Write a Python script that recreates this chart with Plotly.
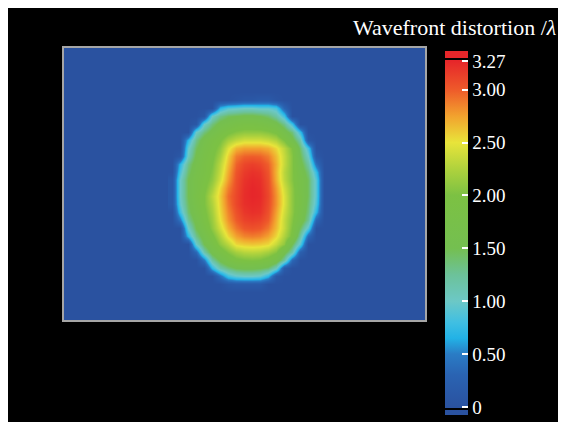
import plotly.graph_objects as go

# grid cell indices (columns / rows of the sampled wavefront map)
col_index = list(range(13, 33))
row_index = list(range(5, 31))

# wavefront distortion values (in wavelengths)
distortion = [
    [0, 0, 0, 0, 0, 0, 0, 0, 0, 0, 0, 0, 0, 0, 0, 0, 0, 0, 0, 0],
    [0, 0, 0, 0, 0, 0, 0, 0, 0.05, 0.1, 0.1, 0.15, 0.15, 0.05, 0, 0, 0, 0, 0, 0],
    [0, 0, 0, 0, 0, 0, 0.7, 0.9, 0.95, 1.0, 1.0, 0.95, 0.95, 0.85, 0.3, 0, 0, 0, 0, 0],
    [0, 0, 0, 0, 0.1, 1.0, 1.3, 1.45, 1.5, 1.55, 1.55, 1.5, 1.4, 1.2, 0.8, 0, 0, 0, 0, 0],
    [0, 0, 0, 0.1, 1.0, 1.35, 1.6, 1.7, 1.8, 1.85, 1.85, 1.82, 1.75, 1.6, 1.3, 0.8, 0, 0, 0, 0],
    [0, 0, 0, 1.0, 1.35, 1.6, 1.8, 1.95, 2.05, 2.1, 2.1, 2.1, 2.05, 1.95, 1.65, 1.35, 0.75, 0, 0, 0],
    [0, 0, 0.7, 1.3, 1.65, 1.85, 1.98, 2.2, 2.32, 2.4, 2.4, 2.4, 2.35, 2.25, 2.0, 1.6, 1.15, 0.1, 0, 0],
    [0, 0, 0.95, 1.45, 1.75, 1.9, 2.1, 2.45, 2.68, 2.75, 2.75, 2.75, 2.7, 2.55, 2.3, 2.0, 1.4, 0.8, 0, 0],
    [0, 0.1, 1.05, 1.55, 1.8, 1.95, 2.2, 2.58, 2.88, 2.97, 2.99, 2.97, 2.88, 2.65, 2.35, 2.05, 1.5, 1.0, 0.1, 0],
    [0, 0.7, 1.3, 1.65, 1.85, 2.0, 2.3, 2.65, 2.97, 3.1, 3.14, 3.1, 2.98, 2.7, 2.35, 2.05, 1.6, 1.2, 0.4, 0],
    [0, 0.85, 1.4, 1.7, 1.85, 2.05, 2.35, 2.72, 3.03, 3.16, 3.21, 3.18, 3.03, 2.68, 2.3, 2.05, 1.7, 1.35, 0.75, 0],
    [0.1, 1.0, 1.5, 1.75, 1.9, 2.1, 2.42, 2.78, 3.06, 3.2, 3.25, 3.22, 3.06, 2.7, 2.32, 2.05, 1.75, 1.45, 0.9, 0],
    [0.1, 1.0, 1.5, 1.75, 1.95, 2.2, 2.55, 2.87, 3.08, 3.22, 3.27, 3.24, 3.08, 2.77, 2.4, 2.1, 1.75, 1.45, 0.9, 0],
    [0.1, 1.0, 1.5, 1.8, 2.0, 2.3, 2.6, 2.93, 3.1, 3.23, 3.27, 3.25, 3.1, 2.8, 2.45, 2.1, 1.8, 1.45, 0.9, 0],
    [0.1, 0.95, 1.45, 1.75, 2.0, 2.25, 2.58, 2.9, 3.1, 3.22, 3.25, 3.23, 3.08, 2.8, 2.45, 2.1, 1.8, 1.4, 0.85, 0],
    [0, 0.8, 1.4, 1.7, 1.95, 2.2, 2.55, 2.85, 3.05, 3.18, 3.22, 3.2, 3.05, 2.75, 2.4, 2.1, 1.75, 1.35, 0.7, 0],
    [0, 0.45, 1.25, 1.6, 1.9, 2.15, 2.5, 2.8, 3.0, 3.12, 3.15, 3.12, 3.0, 2.7, 2.35, 2.05, 1.7, 1.25, 0.3, 0],
    [0, 0, 1.0, 1.5, 1.8, 2.1, 2.4, 2.7, 2.9, 3.02, 3.05, 3.02, 2.9, 2.65, 2.35, 2.0, 1.45, 0.9, 0, 0],
    [0, 0, 0.7, 1.3, 1.65, 1.95, 2.25, 2.55, 2.75, 2.85, 2.88, 2.85, 2.75, 2.55, 2.25, 1.95, 1.2, 0.35, 0, 0],
    [0, 0, 0, 1.0, 1.5, 1.8, 2.1, 2.3, 2.55, 2.6, 2.62, 2.6, 2.55, 2.35, 2.1, 1.5, 0.9, 0, 0, 0],
    [0, 0, 0, 0.35, 1.15, 1.6, 1.85, 2.05, 2.2, 2.28, 2.3, 2.28, 2.2, 2.05, 1.6, 1.15, 0.25, 0, 0, 0],
    [0, 0, 0, 0, 0.45, 1.2, 1.55, 1.8, 1.95, 2.0, 2.02, 2.0, 1.9, 1.7, 1.2, 0.35, 0, 0, 0, 0],
    [0, 0, 0, 0, 0, 0.7, 1.15, 1.35, 1.5, 1.55, 1.55, 1.5, 1.4, 1.05, 0.15, 0, 0, 0, 0, 0],
    [0, 0, 0, 0, 0, 0, 0.4, 0.8, 0.95, 1.0, 1.0, 0.95, 0.7, 0.1, 0, 0, 0, 0, 0, 0],
    [0, 0, 0, 0, 0, 0, 0, 0.1, 0.15, 0.15, 0.15, 0.15, 0, 0, 0, 0, 0, 0, 0, 0],
    [0, 0, 0, 0, 0, 0, 0, 0, 0, 0, 0, 0, 0, 0, 0, 0, 0, 0, 0, 0],
]

tick_values = [0, 0.5, 1.0, 1.5, 2.0, 2.5, 3.0, 3.27]
tick_labels = ["0", "0.50", "1.00", "1.50", "2.00", "2.50", "3.00", "3.27"]

Z_LO, Z_HI = -0.075, 3.365
BASE = "#2a52a0"
RED = "#e6262a"
color_stops = [
    (Z_LO, BASE), (-0.032, BASE), (-0.03, "#000000"), (-0.012, "#000000"), (-0.01, BASE),
    (0.0, BASE), (0.3, "#2a63b2"), (0.5, "#2a7cc5"), (0.65, "#22b2e6"), (0.8, "#40bfe2"),
    (1.0, "#6cc8c6"), (1.25, "#6cc29a"), (1.5, "#74bf50"), (2.0, "#7cc143"),
    (2.25, "#afd23d"), (2.5, "#e8e43a"), (2.75, "#f2a22e"), (3.0, "#ee5a2a"),
    (3.27, RED), (3.28, RED), (3.282, "#000000"), (3.298, "#000000"), (3.30, RED), (Z_HI, RED),
]
colorscale = [[(v - Z_LO) / (Z_HI - Z_LO), c] for v, c in color_stops]
colorscale[0][0] = 0.0
colorscale[-1][0] = 1.0

W, H = 566, 422
L, R, T, B = 56, 149, 40, 110
pw, ph = W - L - R, H - T - B

SERIF = "Liberation Serif, Times New Roman, serif"

fig = go.Figure(
    go.Heatmap(
        x=col_index,
        y=row_index,
        z=distortion,
        zmin=Z_LO,
        zmax=Z_HI,
        colorscale=colorscale,
        zsmooth="best",
        colorbar=dict(
            thickness=23,
            thicknessmode="pixels",
            len=364,
            lenmode="pixels",
            x=(437 - L) / pw,
            xanchor="left",
            y=(H - B - 225) / ph,
            yanchor="middle",
            xpad=0,
            ypad=0,
            outlinewidth=0,
            ticks="inside",
            ticklen=6,
            tickwidth=2,
            tickcolor="white",
            tickvals=tick_values,
            ticktext=tick_labels,
            tickfont=dict(family=SERIF, size=19, color="white"),
        ),
    )
)

fig.update_xaxes(
    range=[-0.5, -0.5 + pw / 8], showgrid=False, zeroline=False, showticklabels=False,
    ticks="", showline=True, mirror=True, linecolor="#a6a6a6", linewidth=2,
)
fig.update_yaxes(
    range=[-0.5 + ph / 8, -0.5], showgrid=False, zeroline=False, showticklabels=False,
    ticks="", showline=True, mirror=True, linecolor="#a6a6a6", linewidth=2,
)

fig.update_layout(
    width=W,
    height=H,
    margin=dict(l=L, r=R, t=T, b=B, pad=0),
    paper_bgcolor="#000000",
    plot_bgcolor=BASE,
    showlegend=False,
    annotations=[
        dict(
            text="Wavefront distortion /<i>λ</i>",
            xref="paper", yref="paper",
            x=(550 - L) / pw, y=(H - B - 19) / ph,
            xanchor="right", yanchor="middle",
            showarrow=False,
            font=dict(family=SERIF, size=22, color="white"),
        )
    ],
)

fig.write_html("out.html")
